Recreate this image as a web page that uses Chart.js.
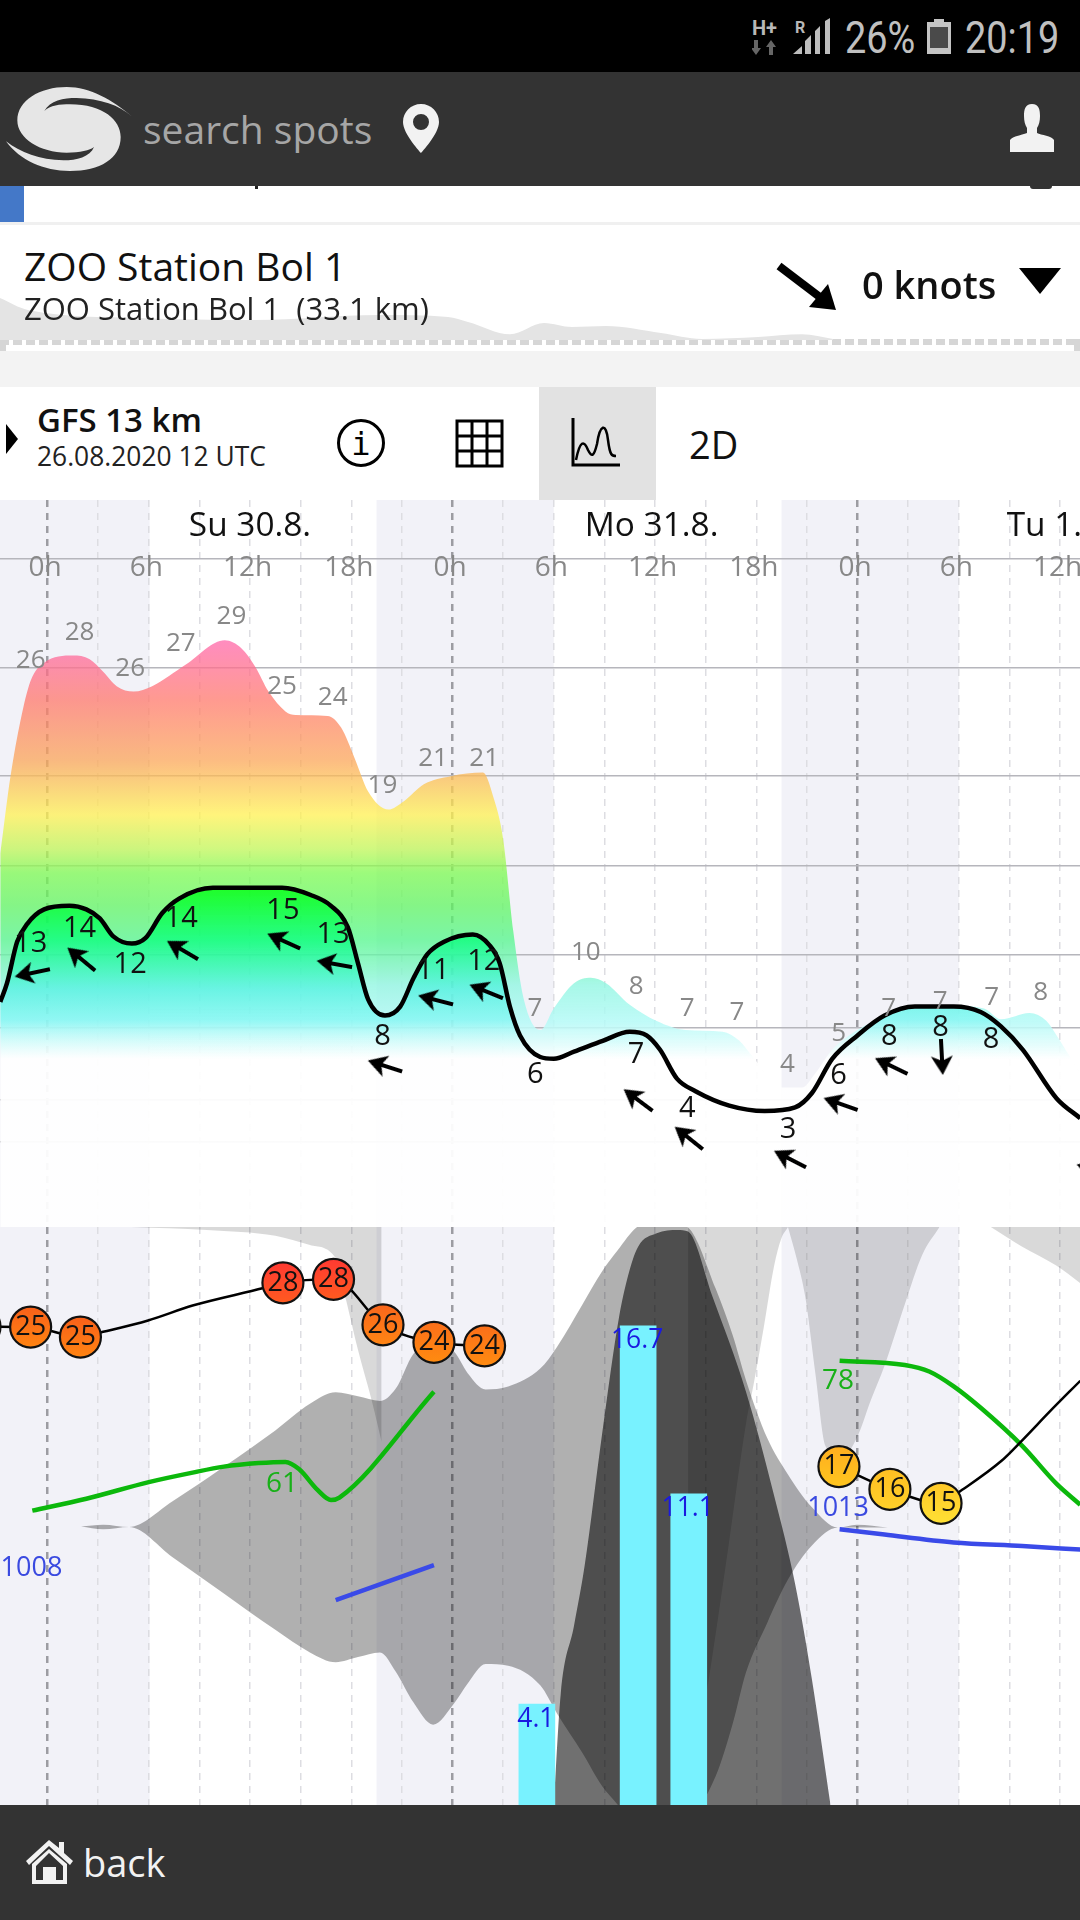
<!DOCTYPE html>
<html><head><meta charset="utf-8">
<script src="https://cdn.jsdelivr.net/npm/chart.js@4/dist/chart.umd.min.js"></script>
<style>
html,body{margin:0;padding:0;background:#fff;width:1080px;height:1920px;overflow:hidden;font-family:"Open Sans",sans-serif}
.b{position:absolute}
.t{position:absolute;white-space:pre;transform:translateY(-50%);line-height:1}
canvas{position:absolute;left:0}
</style></head><body>
<div class="b" style="left:0;top:0;width:1080px;height:72px;background:#000"></div>
<div class="b" style="left:0;top:72px;width:1080px;height:114px;background:#333"></div>
<div class="b" style="left:0;top:186px;width:24px;height:36px;background:#4478c8"></div>
<div class="b" style="left:255px;top:186px;width:3px;height:3px;background:#222"></div>
<div class="b" style="left:1030px;top:186px;width:22px;height:3px;background:#333;border-radius:0 0 10px 10px"></div>
<div class="b" style="left:0;top:222px;width:1080px;height:3px;background:#f0f0f0"></div>
<div class="b" style="left:0;top:339px;width:1080px;height:6px;background:repeating-linear-gradient(90deg,#d6d6d6 0 9px,#fff 9px 13px)"></div>
<div class="b" style="left:0;top:339px;width:6px;height:12px;background:#d6d6d6"></div>
<div class="b" style="left:1074px;top:339px;width:6px;height:12px;background:#d6d6d6"></div>
<div class="b" style="left:0;top:351px;width:1080px;height:36px;background:#f3f3f3"></div>
<div class="b" style="left:539px;top:387px;width:117px;height:113px;background:#e2e2e2"></div>

<canvas id="terrain" width="1080" height="42" style="top:298px"></canvas>

<!-- status bar -->
<div class="t" style="left:752px;top:28px;font:700 20px Roboto;color:#b8b8b8">H+</div>
<svg class="b" style="left:752px;top:40px" width="28" height="16"><path d="M2 0h4v8h3l-5 7-5-7h3zM17 15h4V7h3l-5-7-5 7h3z" fill="#666"/></svg>
<div class="t" style="left:795px;top:27px;font:700 16px Roboto;color:#b8b8b8">R</div>
<svg class="b" style="left:793px;top:18px" width="38" height="37"><path d="M0 36L9 28V36ZM12 36V23L18 17V36ZM22 36V13L27 8V36ZM32 36V3L37 0V36Z" fill="#bdbdbd"/></svg>
<div class="t" style="left:845px;top:38px;font:400 44px Roboto;color:#c0c0c0;transform:translateY(-50%) scaleX(.86);transform-origin:left center">26%</div>
<svg class="b" style="left:927px;top:19px" width="24" height="35"><path d="M7 0h10v3h7v32H0V3h7z" fill="#c4c4c4"/><rect x="3" y="8" width="18" height="21" fill="#4a4a4a"/></svg>
<div class="t" style="left:965px;top:38px;font:400 44px Roboto;color:#c0c0c0;transform:translateY(-50%) scaleX(.86);transform-origin:left center">20:19</div>

<!-- header -->
<svg class="b" style="left:0;top:72px" width="140" height="114" viewBox="0 0 420 342"><path fill="#e6e6e6" d="M395,133 C340,85 270,45 200,45 C120,45 52,85 52,145 C52,200 120,242 200,242 C240,242 270,235 282,225 C270,255 230,265 190,265 C120,265 60,240 18,208 C60,265 130,297 210,297 C300,297 362,260 362,195 C362,145 310,97 210,97 C180,97 150,100 133,117 C150,85 190,78 230,78 C300,80 360,100 395,133 Z"/></svg>
<div class="t" style="left:143px;top:128px;font-size:39px;color:#a6a6a6">search spots</div>
<svg class="b" style="left:403px;top:104px" width="36" height="49" viewBox="0 0 36 49"><path fill-rule="evenodd" fill="#f2f2f2" d="M18 0C8 0 0 8 0 18C0 30 18 49 18 49S36 30 36 18C36 8 28 0 18 0ZM18 10a8 8 0 1 1 0 16a8 8 0 1 1 0-16Z"/></svg>
<svg class="b" style="left:1010px;top:104px" width="44" height="48" viewBox="0 0 44 48"><path fill="#f2f2f2" d="M22 0C15 0 14 6 14 12C14 17 15 21 17 24V29C13 31 2 32 0 36V48H44V36C42 32 31 31 27 29V24C29 21 30 17 30 12C30 6 29 0 22 0Z"/></svg>

<!-- spot row -->
<div class="t" style="left:24px;top:265px;font-size:39px;color:#111">ZOO Station Bol 1</div>
<div class="t" style="left:24px;top:308px;font-size:31px;color:#222">ZOO Station Bol 1  (33.1 km)</div>
<svg class="b" style="left:770px;top:258px" width="70" height="56"><path d="M9 8L55 43" stroke="#000" stroke-width="8"/><path d="M66 52L58 26L39 49Z" fill="#000"/></svg>
<div class="t" style="left:862px;top:284px;font:600 38px 'Open Sans';color:#111">0 knots</div>
<svg class="b" style="left:1019px;top:268px" width="42" height="26"><path d="M0 0H42L21 26Z" fill="#000"/></svg>

<!-- model row -->
<svg class="b" style="left:6px;top:424px" width="13" height="30"><path d="M0 0L12 15L0 30Z" fill="#000"/></svg>
<div class="t" style="left:37px;top:419px;font:600 33px 'Open Sans';color:#111">GFS 13 km</div>
<div class="t" style="left:37px;top:456px;font-size:26.4px;color:#222">26.08.2020 12 UTC</div>
<svg class="b" style="left:336px;top:419px" width="50" height="48"><circle cx="25" cy="24" r="22.5" fill="none" stroke="#000" stroke-width="3"/><text x="25" y="36" text-anchor="middle" font-family="DejaVu Sans Mono" font-size="32" fill="#000">i</text></svg>
<svg class="b" style="left:455px;top:419px" width="49" height="49"><path d="M2 2H47V47H2ZM17 2V47M32 2V47M2 17H47M2 32H47" fill="none" stroke="#000" stroke-width="3"/></svg>
<svg class="b" style="left:570px;top:418px" width="52" height="50"><path d="M3 0V47H50" fill="none" stroke="#000" stroke-width="3"/><path d="M6 42C10 22 14 22 18 32C22 40 24 38 27 26C30 6 36 4 38 22C40 38 42 38 46 38" fill="none" stroke="#000" stroke-width="2.5"/></svg>
<div class="t" style="left:689px;top:444px;font-size:38px;color:#111">2D</div>

<canvas id="wind" width="1080" height="727" style="top:500px"></canvas>
<canvas id="meteo" width="1080" height="578" style="top:1227px"></canvas>

<!-- footer -->
<div class="b" style="left:0;top:1805px;width:1080px;height:115px;background:#333"></div>
<svg class="b" style="left:26px;top:1840px" width="47" height="44" viewBox="0 0 47 44"><path fill-rule="evenodd" fill="#f2f2f2" d="M23 0L33 8V2H38V13L47 21L44 25L23 6L3 25L0 21ZM6 24L23 9L41 24V44H6ZM10 26V40H17V27H30V40H37V26L23 13Z"/></svg>
<div class="t" style="left:83px;top:1862px;font-size:38px;color:#f2f2f2">back</div>

<script>
// ---- time axis (hours from Sunday 0h) ----
const gridHours = [0,3,6,9,12,15,18,21,24,27,30,33,36,39,42,45,48,51,54,57,60];
const nightRanges = [[-3,6.05],[19.5,30],[43.5,54]];
const dayLabels = ['Su 30.8.','Mo 31.8.','Tu 1.9.'];
const dayLabelHours = [12,35.8,59.9];

// ---- wind panel (knots) ----
const windLevels = [33.67,27.64,21.63,16.63,11.67,7.63,3.63,1.29];
const windHours = [-2.8,-2.4,-1.8,-1.2,-0.2,1.3,2.3,3.1,3.9,5.0,5.8,6.8,7.8,9.8,11.9,13.9,15.6,16.8,17.8,18.4,19.0,20.0,20.9,21.7,22.5,23.5,25.2,26.2,26.8,27.4,28.0,29.2,30.0,31.2,32.9,34.5,35.5,36.3,37.3,38.4,40.4,42.5,44.3,45.3,46.5,48.0,49.6,51.4,53.7,55.3,56.5,57.8,59.8,61.2];
const windSpeed = [9.06,10.1,12.4,13.4,14.2,14.4,14.2,13.7,12.7,12.3,12.6,14.0,14.8,15.4,15.4,15.4,15.0,14.4,13.2,11.2,9.2,8.3,8.8,10.4,11.7,12.4,12.8,12.2,11.2,8.8,7.2,6.0,5.9,6.3,6.9,7.4,7.2,6.4,4.8,4.1,3.3,3.0,3.2,4.0,5.9,7.2,8.3,8.8,8.8,8.5,7.7,6.4,3.7,2.6];
const gustHours = [-2.8,-2.2,-1.6,-1.0,-0.2,1.5,2.5,3.3,4.1,5.1,6.2,8.2,10.5,11.5,12.3,13.1,14.1,14.7,16.6,17.4,18.2,19.0,20.2,21.1,22.3,23.9,25.8,26.4,27.0,27.6,28.2,29.2,30.0,31.2,32.2,33.1,34.5,36.1,37.8,40.0,41.0,41.8,43.5,44.7,45.5,46.5,48.0,49.8,51.4,53.7,55.5,56.5,58.2,59.2,59.8,60.6,61.2];
const gustSpeed = [17.3,21.55,24.7,26.9,27.9,28.3,28.1,27.4,26.6,26.3,26.6,27.8,29.15,28.7,27.7,26.3,25.2,25.0,24.95,24.3,22.6,20.75,19.75,20.2,21.15,21.6,21.8,20.5,18.1,13.0,9.3,7.5,8.7,10.1,10.4,10.1,8.9,8.0,7.5,7.4,6.9,6.0,4.3,4.3,5.1,6.4,7.5,8.3,8.85,8.85,8.7,8.1,8.45,8.0,7.2,6.0,5.1];
const gustLabelHours = [-1,1.9,4.9,7.9,10.9,13.9,16.9,19.85,22.85,25.88,28.88,31.9,34.88,37.9,40.85,43.85,46.88,49.85,52.9,55.95,58.85];
const gustLabels = [26,28,26,27,29,25,24,19,21,21,7,10,8,7,7,4,5,7,7,7,8];
const gustLabelLevel = [28.05,29.6,27.6,28.95,30.45,26.6,25.95,21.1,22.6,22.6,8.67,11.8,9.9,8.7,8.45,5.6,7.3,8.67,9.1,9.3,9.6];
const windLabelHours = [-1,1.9,4.9,7.92,13.95,16.92,19.85,22.85,25.85,28.9,34.88,37.92,43.88,46.88,49.88,52.92,55.92];
const windLabels = [13,14,12,14,15,13,8,11,12,6,7,4,3,6,8,8,8];
const windLabelLevel = [12.3,13.1,11.13,13.67,14.1,12.78,7.1,10.8,11.3,5,6.13,3.13,1.96,4.94,7.1,7.6,6.94];
const arrowHours = [-0.9,2,8,14,17,20,23,26,35,38,44,47,50,53,62];
const arrowLevel = [10.67,11.44,11.94,12.44,11.17,5.5,9.17,9.64,3.61,1.5,0.33,3.39,5.5,6,-0.28];
const arrowBearing = [-102,-50.4,-59.5,-65.6,-79.8,-72.2,-75.6,-67.9,-53.2,-51.4,-62.7,-70.6,-64.2,177,-72];
const gustStops = [[29.2,'rgba(255,101,171,.75)'],[25.83,'rgba(255,120,107,.75)'],[22.5,'rgba(251,165,88,.75)'],[19.44,'rgba(255,241,80,.75)'],[17.56,'rgba(192,246,85,.75)'],[16.22,'rgba(123,250,80,.75)'],[14.44,'rgba(96,246,96,.75)'],[12.5,'rgba(82,246,139,.75)'],[10,'rgba(146,246,226,.8)'],[7.94,'rgba(181,250,247,.85)'],[5.89,'rgba(255,255,255,.94)']];
const windStops = [[15.83,'rgba(0,255,0,.8)'],[12.5,'rgba(0,255,120,.7)'],[9.72,'rgba(64,240,224,.6)'],[8.06,'rgba(100,245,240,.5)'],[5.89,'rgba(255,255,255,0)']];

// ---- meteogram panel ----
const cloudHighHours1 = [4.94,9.43,13.5,15.55,17.08,17.7,18.4,19.2,19.8];
const cloudHigh1 = [100,99.5,98.5,96.9,94.6,87.3,78.7,70.1,62.8];
const cloudHighHours2 = [37.96,39.0,40.2,41.4,41.84,42.45,43.06,43.47,43.88];
const cloudHigh2 = [1.9,18.4,41.6,66.1,72.7,82.7,93.3,97.9,100];
const cloudHighHours3 = [43.88,44.39,44.9,45.5,46.1,47.04,47.96,48.8,49.6,50.8,51.84,52.86];
const cloudHigh3 = [100,94.6,88,74.7,62.1,60.1,63.5,70.1,76,86.6,95.2,100];
const cloudHighHours4 = [55.9,57.76,59.8,61.2];
const cloudHigh4 = [100,96.6,93.3,90.3];
const cloudMidHours = [1.98,3.3,4.84,7.39,10.45,13.5,15.55,17.08,18.4,19.7,20.65,21.67,22.85,24.1,24.9,25.96,27.3,29.2,30.2,31.7,32.86,33.8,34.9,36.3,37.96,39.6,40.6,41.4,42.65,43.88,45.3,46.84,47.96,49.8];
const cloudMidUpper = [48.2,48.5,48.1,52.5,58.5,64.8,69.4,71.4,70.7,69.9,72.1,78,80,78.4,74.7,71.9,72.4,75.5,79.3,86.6,92.3,96,99.9,101.2,99.9,89.3,81.3,73.4,63.5,57.2,51.5,48,48.5,48];
const cloudMidLower = [48.2,47.7,48.1,42.9,36.6,30.3,26.4,24.7,25.6,26.4,23,17.8,13.9,17.6,21,24.4,24.1,20.7,15.8,9,3.3,0,-4.8,-6,-3,5,14,23,31.5,39,44.9,48,48,48];
const cloudLowHours = [30.0,30.41,31.2,31.84,32.86,33.88,34.5,35,36.1,37.35,37.96,39.4,41.4,43.06,44.3,45.3,46.4];
const cloudLow = [0,19.1,31,41.6,64.1,84.6,92.6,96.6,98.9,99.5,99.2,88,71.4,53.5,38.3,21.7,0];

const rainHours = [29,35,38];
const rainHeight = [3.52,16.7,10.84];
const rainLabels = ['4.1','16.7','11.1'];

const tempHours = [-4,-1,1.95,3.3,5.96,8.6,12.8,13.95,16.95,19.88,22.9,25.9,36,46.9,49.92,52.95,54.2,56.5,57.76,59.4,61.2];
const tempValues = [25,24.97,24.4,24.7,25.35,26.2,27.2,27.5,27.7,25.1,24.1,23.9,null,17,15.7,14.9,15.67,17.3,18.5,20.15,21.9];
const tempLabels = ['25','25','25',null,null,null,null,'28','28','26','24','24',null,'17','16','15',null,null,null,null,null];
const tempColorTop = ['#f8601a','#f8601a','#f8601a',null,null,null,null,'#ff3a32','#ff3a32','#f9661c','#fb6f1a','#fb6f1a',null,'#ffae1f','#ffbf23','#ffc828',null,null,null,null,null];
const tempColorBottom = ['#ff8412','#ff8412','#ff8412',null,null,null,null,'#ff5a20','#ff5a20','#ff8514','#ff8b10','#ff8b10',null,'#ffc51f','#ffd029','#ffe034',null,null,null,null,null];

const humidHours = [-0.9,2.3,6.0,8.6,10.45,12.5,14.1,14.9,16,16.8,17.3,22.9,36,46.94,50.8,52.25,53.7,55.3,57.76,59.8,61.2];
const humidity = [52.8,54.8,57.6,59.2,60.2,60.8,61,59.8,56.3,54.6,55,72.8,null,78,77.3,76.2,73.7,70.1,63.7,57.3,53.8];
const humidLabels = ['61','78'];
const humidLabelHours = [13.9,46.85];
const humidLabelLevel = [57.2,74.6];

const pressHours = [17.08,22.9,36,46.94,49.6,53.7,57.76,61.2];
const pressure = [1007,1009.9,null,1012.9,1012.45,1011.8,1011.5,1011.2];
const pressLabels = ['1008','1013'];
const pressLabelHours = [-0.95,46.85];
const pressLabelLevel = [1009.67,1014.67];

const terrainX = [0,28,138,255,379,448,468,510,544,572,606,661,702,758,802,833];
const terrainHeight = [42,30,22,20,25,23,18,5.7,17,13,14,7,1,3,5.7,1];

// ---- helpers ----
const pts = (xs,ys)=>xs.map((x,i)=>({x,y:ys[i]}));
const FONT = '"Open Sans", sans-serif';
function vGradient(stops){
  return c=>{
    const chart=c.chart, sc=chart.scales.y; if(!sc||!chart.chartArea) return 'transparent';
    const y0=sc.getPixelForValue(stops[0][0]), y1=sc.getPixelForValue(stops[stops.length-1][0]);
    const g=chart.ctx.createLinearGradient(0,y0,0,y1);
    stops.forEach(s=>g.addColorStop((sc.getPixelForValue(s[0])-y0)/(y1-y0),s[1]));
    return g;
  };
}
function circleFill(c){
  const i=c.dataIndex, sc=c.chart.scales.temp;
  if(!tempColorTop[i]||!sc||!c.chart.chartArea) return '#000';
  const y=sc.getPixelForValue(tempValues[i]);
  const g=c.chart.ctx.createLinearGradient(0,y-20,0,y+20);
  g.addColorStop(0,tempColorTop[i]); g.addColorStop(1,tempColorBottom[i]);
  return g;
}
function text(ctx,s,x,y,size,color){
  ctx.font=size+'px '+FONT; ctx.fillStyle=color; ctx.textAlign='center'; ctx.textBaseline='middle';
  ctx.fillText(String(s),x,y);
}
const nightPlugin={id:'nights',beforeDraw(chart){
  const {ctx,chartArea:a,scales:{x}}=chart; ctx.save(); ctx.fillStyle='#f2f2f8';
  nightRanges.forEach(r=>{const l=x.getPixelForValue(r[0]),h=x.getPixelForValue(r[1]);ctx.fillRect(l,a.top,h-l,a.bottom-a.top);});
  ctx.restore();
}};
const isDayLine = c=>c.tick&&c.tick.value%24===0;
function xAxis(extra){
  return Object.assign({
    type:'linear',min:-2.815,max:61.185,offset:false,
    afterBuildTicks(s){s.ticks=gridHours.map(value=>({value}));},
    afterFit(s){s.height=0;s.paddingLeft=0;s.paddingRight=0;s.paddingTop=0;s.paddingBottom=0;},
    grid:{drawTicks:false,offset:false,
      color:c=>isDayLine(c)?'#9c9ca2':'#dddde2',
      lineWidth:c=>isDayLine(c)?2.5:1.5},
    border:{display:false,dash:[7,6]}
  },extra);
}
function arrowImage(){
  const c=document.createElement('canvas');c.width=40;c.height=40;const g=c.getContext('2d');
  g.fillStyle='#000';
  g.beginPath();g.moveTo(20,2);g.lineTo(31,21);g.lineTo(22,17);g.lineTo(22,38);g.lineTo(18,38);g.lineTo(18,17);g.lineTo(9,21);g.closePath();g.fill();
  return c;
}
const base={responsive:false,animation:false,events:[],layout:{padding:0,autoPadding:false},
  plugins:{legend:{display:false},tooltip:{enabled:false}},
  elements:{point:{radius:0},line:{borderWidth:0}}};

function start(){
// ---- wind chart ----
new Chart(document.getElementById('wind'),{
  type:'line',
  data:{datasets:[
    {label:'direction',data:pts(arrowHours,arrowLevel),showLine:false,pointStyle:arrowImage(),pointRadius:20,pointRotation:arrowBearing,order:1},
    {label:'wind',data:pts(windHours,windSpeed),borderColor:'#000',borderWidth:4.5,cubicInterpolationMode:'monotone',fill:'start',backgroundColor:vGradient(windStops),order:2},
    {label:'gust',data:pts(gustHours,gustSpeed),borderWidth:0,cubicInterpolationMode:'monotone',fill:'start',backgroundColor:vGradient(gustStops),order:3}
  ]},
  options:Object.assign({},base,{
    scales:{
      x:xAxis({position:'top',ticks:{mirror:true,padding:51,labelOffset:-2.5,autoSkip:false,maxRotation:0,minRotation:0,color:'#888',font:{family:FONT,size:28},
        callback:v=>v%6===0?(v%24)+'h':''}}),
      y:{type:'linear',min:-3.444,max:36.944,position:'left',
        afterBuildTicks(s){s.ticks=windLevels.map(value=>({value}));},
        afterFit(s){s.width=0;},
        ticks:{display:false},
        grid:{drawTicks:false,color:'#b6b6bc',lineWidth:1.5},
        border:{display:false}}
    }
  }),
  plugins:[nightPlugin,{id:'windText',afterDraw(chart){
    const {ctx,scales:{x,y}}=chart; ctx.save();
    dayLabels.forEach((s,i)=>text(ctx,s,x.getPixelForValue(dayLabelHours[i]),26,33.4,'#111'));
    gustLabels.forEach((s,i)=>text(ctx,s,x.getPixelForValue(gustLabelHours[i]),y.getPixelForValue(gustLabelLevel[i]),26,'#888'));
    windLabels.forEach((s,i)=>text(ctx,s,x.getPixelForValue(windLabelHours[i]),y.getPixelForValue(windLabelLevel[i]),29,'#111'));
    ctx.restore();
  }}]
});

// ---- meteogram chart ----
const cloud=(label,xs,ys,fill,color,order)=>({label,data:pts(xs,ys),yAxisID:'cloud',borderWidth:0,cubicInterpolationMode:'monotone',fill,backgroundColor:color,order});
new Chart(document.getElementById('meteo'),{
  type:'line',
  data:{datasets:[
    {label:'temperature',data:pts(tempHours,tempValues),yAxisID:'temp',borderColor:'#000',borderWidth:2.5,cubicInterpolationMode:'monotone',
      pointRadius:c=>tempLabels[c.dataIndex]?20.5:0,pointBackgroundColor:circleFill,pointBorderColor:'#111',pointBorderWidth:2.2,order:1},
    {label:'humidity',data:pts(humidHours,humidity),yAxisID:'humid',borderColor:'#0cb80c',borderWidth:4.5,cubicInterpolationMode:'monotone',order:2},
    {label:'pressure',data:pts(pressHours,pressure),yAxisID:'press',borderColor:'#3a4ae8',borderWidth:4.5,cubicInterpolationMode:'monotone',order:3},
    {label:'rain',type:'bar',data:pts(rainHours,rainHeight),yAxisID:'rain',backgroundColor:'#78f2ff',barThickness:36,order:4},
    cloud('high1',cloudHighHours1,cloudHigh1,'end','rgba(0,0,0,.15)',5),
    cloud('high2',cloudHighHours2,cloudHigh2,'end','rgba(0,0,0,.15)',5),
    cloud('high3',cloudHighHours3,cloudHigh3,'end','rgba(0,0,0,.15)',5),
    cloud('high4',cloudHighHours4,cloudHigh4,'end','rgba(0,0,0,.15)',5),
    cloud('low',cloudLowHours,cloudLow,'start','rgba(0,0,0,.56)',6),
    cloud('midUpper',cloudMidHours,cloudMidUpper,'+1','rgba(0,0,0,.31)',7),
    cloud('midLower',cloudMidHours,cloudMidLower,false,'transparent',8)
  ]},
  options:Object.assign({},base,{
    scales:{
      x:xAxis({position:'bottom',ticks:{display:false}}),
      cloud:{type:'linear',display:false,min:0,max:100},
      rain:{type:'linear',display:false,min:0,max:20.14},
      temp:{type:'linear',display:false,min:-2.34,max:30.69},
      humid:{type:'linear',display:false,min:3.3,max:100.5},
      press:{type:'linear',display:false,min:989.92,max:1038.08}
    }
  }),
  plugins:[nightPlugin,{id:'meteoText',afterDraw(chart){
    const {ctx,scales:{x,temp,humid,press,rain}}=chart; ctx.save();
    tempLabels.forEach((s,i)=>{if(s)text(ctx,s,x.getPixelForValue(tempHours[i]),temp.getPixelForValue(tempValues[i]),27,'#111');});
    humidLabels.forEach((s,i)=>text(ctx,s,x.getPixelForValue(humidLabelHours[i]),humid.getPixelForValue(humidLabelLevel[i]),28,'#18b018'));
    pressLabels.forEach((s,i)=>text(ctx,s,x.getPixelForValue(pressLabelHours[i]),press.getPixelForValue(pressLabelLevel[i]),27,'#3a4ae0'));
    rainLabels.forEach((s,i)=>text(ctx,s,x.getPixelForValue(rainHours[i])-1,rain.getPixelForValue(rainHeight[i])+15,26.5,'#1a1ae0'));
    ctx.restore();
  }}]
});

// ---- terrain strip ----
new Chart(document.getElementById('terrain'),{
  type:'line',
  data:{datasets:[{data:pts(terrainX,terrainHeight),borderWidth:0,cubicInterpolationMode:'monotone',fill:'start',backgroundColor:'#e4e4e4'}]},
  options:Object.assign({},base,{scales:{
    x:{type:'linear',display:false,min:0,max:1080},
    y:{type:'linear',display:false,min:0,max:42}
  }})
});
}
if(document.fonts&&document.fonts.load){
  Promise.all([document.fonts.load('26px "Open Sans"')]).then(start,start);
}else start();
</script>
</body></html>
